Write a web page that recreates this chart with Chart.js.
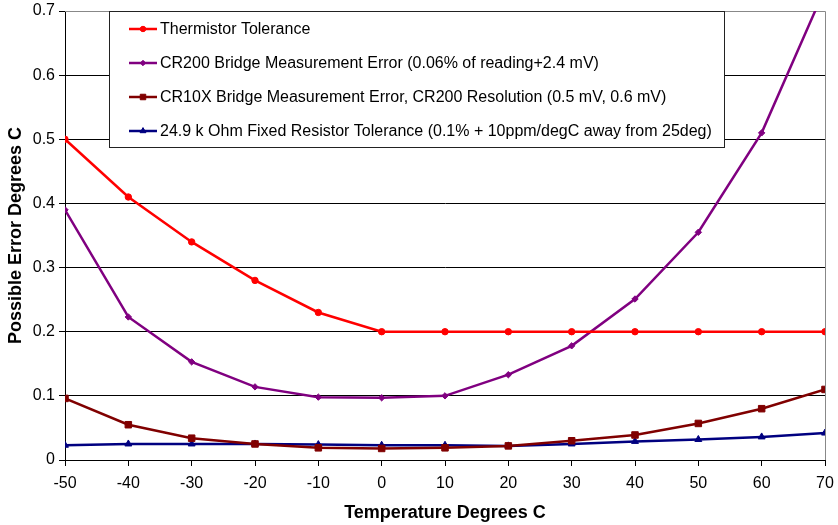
<!DOCTYPE html>
<html><head><meta charset="utf-8">
<script src="https://cdn.jsdelivr.net/npm/chart.js@4/dist/chart.umd.min.js"></script>
<style>html,body{margin:0;padding:0;background:#fff}#wrap{width:838px;height:525px}</style>
</head><body><div id="wrap"><canvas id="c" width="838" height="525"></canvas></div>
<script>
const temperatures = [-50,-40,-30,-20,-10,0,10,20,30,40,50,60,70];
const thermistor = [0.5,0.41,0.34,0.28,0.23,0.2,0.2,0.2,0.2,0.2,0.2,0.2,0.2];
const cr200 = [0.39,0.223,0.153,0.114,0.098,0.097,0.1,0.133,0.178,0.251,0.355,0.51,0.735];
const cr10x = [0.096,0.055,0.034,0.025,0.019,0.018,0.019,0.022,0.030,0.039,0.057,0.08,0.11];
const resistor = [0.023,0.025,0.025,0.025,0.024,0.023,0.023,0.022,0.025,0.029,0.032,0.036,0.042];
const seriesLabels = [
  "Thermistor Tolerance",
  "CR200 Bridge Measurement Error (0.06% of reading+2.4 mV)",
  "CR10X Bridge Measurement Error, CR200 Resolution (0.5 mV, 0.6 mV)",
  "24.9 k Ohm Fixed Resistor Tolerance (0.1% + 10ppm/degC away from 25deg)"
];
const xTitle = "Temperature Degrees C";
const yTitle = "Possible Error Degrees C";

const FONT = "'Liberation Sans', Arial, sans-serif";
const pts = a => a.map((v,i)=>({x:temperatures[i], y:v}));

const legendPlugin = {
  id:'boxLegend',
  afterDatasetsDraw(chart){
    const ctx = chart.ctx;
    const x0 = 109.5, y0 = 11.5, w = 615, h = 136;
    ctx.save();
    ctx.fillStyle = '#fff';
    ctx.fillRect(x0,y0,w,h);
    ctx.strokeStyle = '#222';
    ctx.lineWidth = 1;
    ctx.strokeRect(x0,y0,w,h);
    ctx.font = '16px ' + FONT;
    ctx.textBaseline = 'middle';
    chart.data.datasets.forEach((ds,i)=>{
      const cy = 29 + i*34;
      ctx.strokeStyle = ds.borderColor;
      ctx.lineWidth = 2.5;
      ctx.beginPath(); ctx.moveTo(129,cy); ctx.lineTo(157,cy); ctx.stroke();
      ctx.fillStyle = ds.borderColor;
      ctx.lineWidth = 1;
      Chart.helpers.drawPoint(ctx, {pointStyle: ds.pointStyle, radius: ds.pointRadius*0.85, borderWidth:1}, 143, cy);
      ctx.fillStyle = '#000';
      ctx.fillText(ds.label, 160, cy+1);
    });
    ctx.restore();
  }
};

const frame = {
  id:'frame',
  beforeDatasetsDraw(chart){
    const a = chart.chartArea, ctx = chart.ctx;
    ctx.save();
    ctx.strokeStyle = '#888'; ctx.lineWidth = 1;
    ctx.beginPath();
    ctx.moveTo(a.left, a.top+0.5); ctx.lineTo(a.right+0.5, a.top+0.5);
    ctx.lineTo(a.right+0.5, a.bottom);
    ctx.stroke();
    ctx.restore();
  }
};

function mk(label, data, color, style, r){
  return {label, data: pts(data), borderColor: color, backgroundColor: color,
    pointBackgroundColor: color, pointBorderColor: color, borderWidth: 2.5, pointBorderWidth: 1,
    pointStyle: style, pointRadius: r, pointHoverRadius: r, tension: 0, clip: 0};
}

new Chart(document.getElementById('c'), {
  type:'line',
  data:{ datasets:[
    mk(seriesLabels[0], thermistor, '#FF0000', 'circle', 3.2),
    mk(seriesLabels[1], cr200, '#800080', 'rectRot', 3.2),
    mk(seriesLabels[2], cr10x, '#800000', 'rect', 4.6),
    mk(seriesLabels[3], resistor, '#000080', 'triangle', 4)
  ]},
  options:{
    responsive:false, animation:false, devicePixelRatio:1,
    layout:{padding:{top:11,right:13,left:0,bottom:0}},
    plugins:{legend:{display:false}, tooltip:{enabled:false}},
    scales:{
      x:{type:'linear', min:-50, max:70,
        ticks:{stepSize:10, color:'#000', font:{family:FONT,size:16}, padding:8, maxRotation:0},
        grid:{display:true, drawOnChartArea:false, drawTicks:true, tickLength:6, color:'#000'},
        border:{color:'#000', width:1},
        title:{display:true, text:xTitle, color:'#000', font:{family:FONT,size:18,weight:'bold'}, padding:{top:8,bottom:1}},
        afterFit(s){ s.height = 65; s.paddingRight = 0; s.paddingLeft = 0; }
      },
      y:{min:0, max:0.7,
        ticks:{stepSize:0.1, color:'#000', font:{family:FONT,size:16}, padding:4,
          callback:v=>Math.round(v*10)/10+''},
        grid:{color:(c)=> c.tick && c.tick.value>0.65 ? '#888' : '#000', tickLength:6, drawTicks:true, tickColor:'#000'},
        border:{color:'#000', width:1},
        title:{display:true, text:yTitle, color:'#000', font:{family:FONT,size:18,weight:'bold'}, padding:{top:5,bottom:4}},
        afterFit(s){ s.width = 65; s.paddingTop = 0; s.paddingBottom = 0; }
      }
    }
  },
  plugins:[frame, legendPlugin]
});
</script></body></html>
